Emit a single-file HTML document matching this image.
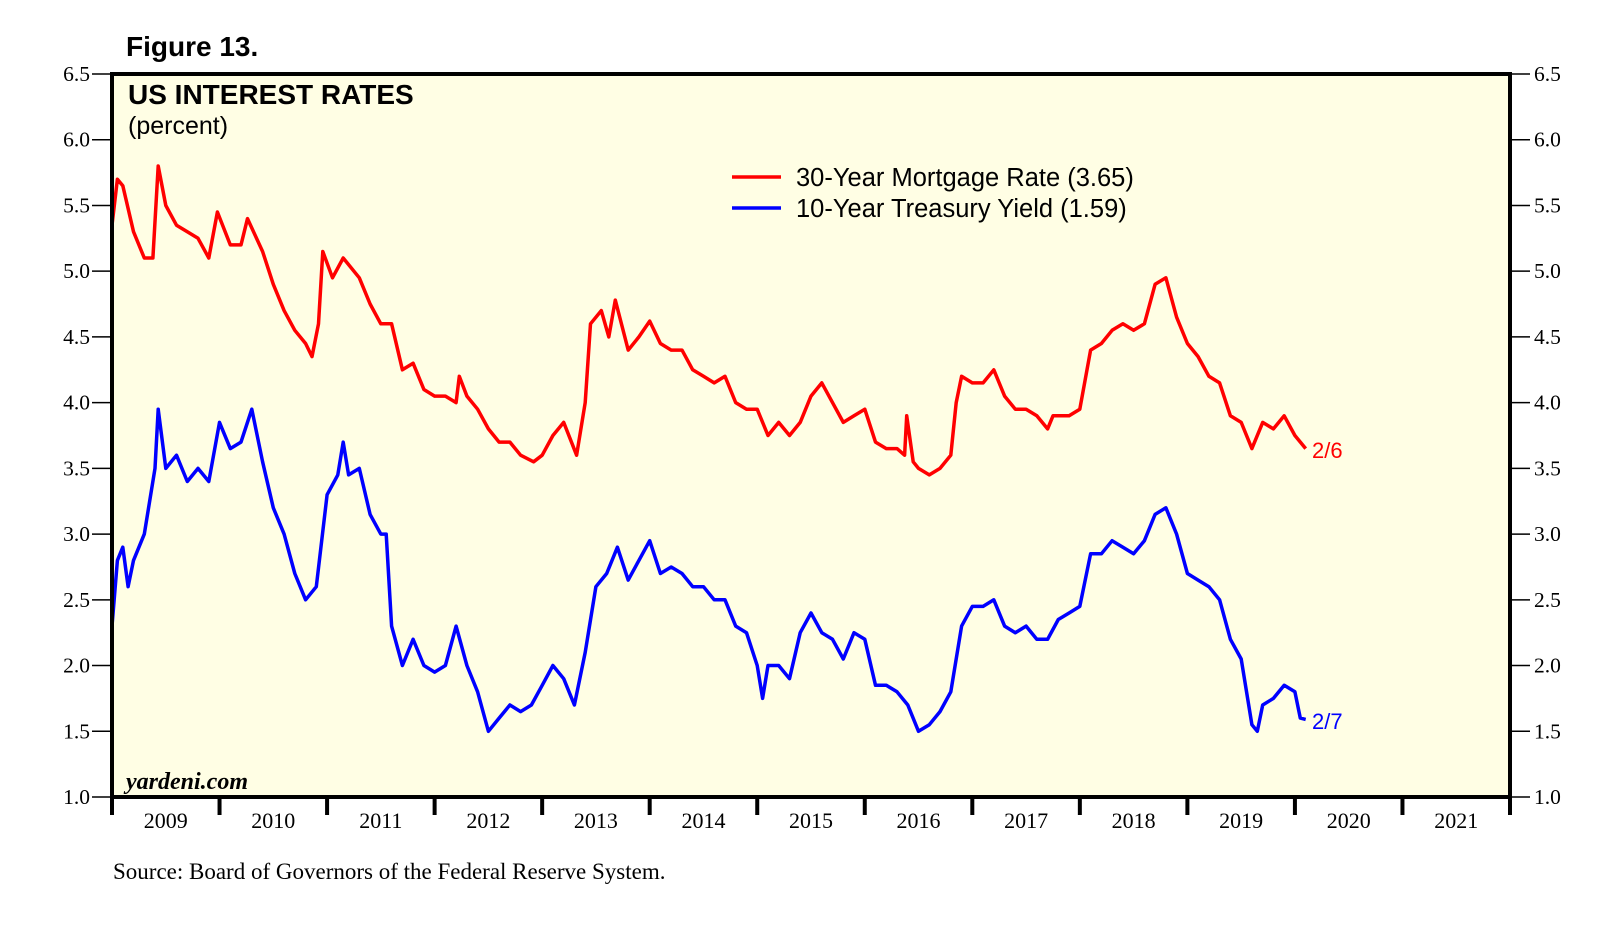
<!DOCTYPE html>
<html><head><meta charset="utf-8"><style>
body{margin:0;background:#fff;width:1610px;height:934px;overflow:hidden}
svg{display:block}
.serif{font-family:"Liberation Serif",serif}
.sans{font-family:"Liberation Sans",sans-serif}
</style></head><body>
<svg id="chart" width="1610" height="934" xmlns="http://www.w3.org/2000/svg">
<text x="126" y="56" class="sans" font-size="28" font-weight="bold">Figure 13.</text>
<rect x="112" y="74" width="1398" height="723" fill="#fffee4"/>
<g id="lines"></g>
<rect x="112" y="74" width="1398" height="723" fill="none" stroke="#000" stroke-width="4"/>
<g id="axes"></g>
<text x="128" y="104" class="sans" font-size="28" font-weight="bold">US INTEREST RATES</text>
<text x="128" y="134" class="sans" font-size="25">(percent)</text>
<line x1="732" y1="177" x2="781" y2="177" stroke="#f00" stroke-width="3.5"/>
<text x="796" y="186" class="sans" font-size="25.5">30-Year Mortgage Rate (3.65)</text>
<line x1="732" y1="208" x2="781" y2="208" stroke="#00f" stroke-width="3.5"/>
<text x="796" y="217" class="sans" font-size="25.5">10-Year Treasury Yield (1.59)</text>
<text x="1312" y="458" class="sans" font-size="22" fill="#f00">2/6</text>
<text x="1312" y="729" class="sans" font-size="22" fill="#00f">2/7</text>
<text x="126" y="789" class="serif" font-size="24" font-style="italic" font-weight="bold">yardeni.com</text>
<text x="113" y="879" class="serif" font-size="23">Source: Board of Governors of the Federal Reserve System.</text>
</svg>
<script>
const yTicks=[1.0,1.5,2.0,2.5,3.0,3.5,4.0,4.5,5.0,5.5,6.0,6.5];
const years=[2009,2010,2011,2012,2013,2014,2015,2016,2017,2018,2019,2020,2021];
const mortDates=[2009.0,2009.05,2009.1,2009.2,2009.3,2009.38,2009.43,2009.5,2009.6,2009.7,2009.8,2009.9,2009.98,2010.1,2010.2,2010.26,2010.4,2010.5,2010.6,2010.7,2010.8,2010.86,2010.92,2010.96,2011.05,2011.15,2011.3,2011.4,2011.5,2011.6,2011.7,2011.8,2011.9,2012.0,2012.1,2012.2,2012.23,2012.3,2012.4,2012.5,2012.6,2012.7,2012.8,2012.92,2013.0,2013.1,2013.2,2013.32,2013.4,2013.45,2013.55,2013.62,2013.68,2013.8,2013.9,2014.0,2014.1,2014.2,2014.3,2014.4,2014.5,2014.6,2014.7,2014.8,2014.9,2015.0,2015.1,2015.2,2015.3,2015.4,2015.5,2015.6,2015.7,2015.8,2015.9,2016.0,2016.1,2016.2,2016.3,2016.37,2016.39,2016.45,2016.5,2016.6,2016.7,2016.8,2016.85,2016.9,2017.0,2017.1,2017.2,2017.3,2017.4,2017.5,2017.6,2017.7,2017.75,2017.9,2018.0,2018.1,2018.2,2018.3,2018.4,2018.5,2018.6,2018.7,2018.8,2018.9,2019.0,2019.1,2019.2,2019.3,2019.4,2019.5,2019.6,2019.7,2019.8,2019.9,2020.0,2020.1];
const mortVals=[5.35,5.7,5.65,5.3,5.1,5.1,5.8,5.5,5.35,5.3,5.25,5.1,5.45,5.2,5.2,5.4,5.15,4.9,4.7,4.55,4.45,4.35,4.6,5.15,4.95,5.1,4.95,4.75,4.6,4.6,4.25,4.3,4.1,4.05,4.05,4.0,4.2,4.05,3.95,3.8,3.7,3.7,3.6,3.55,3.6,3.75,3.85,3.6,4.0,4.6,4.7,4.5,4.78,4.4,4.5,4.62,4.45,4.4,4.4,4.25,4.2,4.15,4.2,4.0,3.95,3.95,3.75,3.85,3.75,3.85,4.05,4.15,4.0,3.85,3.9,3.95,3.7,3.65,3.65,3.6,3.9,3.55,3.5,3.45,3.5,3.6,4.0,4.2,4.15,4.15,4.25,4.05,3.95,3.95,3.9,3.8,3.9,3.9,3.95,4.4,4.45,4.55,4.6,4.55,4.6,4.9,4.95,4.65,4.45,4.35,4.2,4.15,3.9,3.85,3.65,3.85,3.8,3.9,3.75,3.65];
const tsyDates=[2009.0,2009.05,2009.1,2009.15,2009.2,2009.3,2009.4,2009.43,2009.5,2009.6,2009.7,2009.8,2009.9,2010.0,2010.1,2010.2,2010.3,2010.4,2010.5,2010.6,2010.7,2010.8,2010.9,2011.0,2011.1,2011.15,2011.2,2011.3,2011.4,2011.5,2011.55,2011.6,2011.7,2011.8,2011.9,2012.0,2012.1,2012.2,2012.3,2012.4,2012.5,2012.6,2012.7,2012.8,2012.9,2013.0,2013.1,2013.2,2013.3,2013.4,2013.5,2013.6,2013.7,2013.8,2013.9,2014.0,2014.1,2014.2,2014.3,2014.4,2014.5,2014.6,2014.7,2014.8,2014.9,2015.0,2015.05,2015.1,2015.2,2015.3,2015.4,2015.5,2015.6,2015.7,2015.8,2015.9,2016.0,2016.1,2016.2,2016.3,2016.4,2016.5,2016.6,2016.7,2016.8,2016.9,2017.0,2017.1,2017.2,2017.3,2017.4,2017.5,2017.6,2017.7,2017.8,2017.9,2018.0,2018.1,2018.2,2018.3,2018.4,2018.5,2018.6,2018.7,2018.8,2018.9,2019.0,2019.1,2019.2,2019.3,2019.4,2019.5,2019.6,2019.65,2019.7,2019.8,2019.9,2020.0,2020.05,2020.1];
const tsyVals=[2.3,2.8,2.9,2.6,2.8,3.0,3.5,3.95,3.5,3.6,3.4,3.5,3.4,3.85,3.65,3.7,3.95,3.55,3.2,3.0,2.7,2.5,2.6,3.3,3.45,3.7,3.45,3.5,3.15,3.0,3.0,2.3,2.0,2.2,2.0,1.95,2.0,2.3,2.0,1.8,1.5,1.6,1.7,1.65,1.7,1.85,2.0,1.9,1.7,2.1,2.6,2.7,2.9,2.65,2.8,2.95,2.7,2.75,2.7,2.6,2.6,2.5,2.5,2.3,2.25,2.0,1.75,2.0,2.0,1.9,2.25,2.4,2.25,2.2,2.05,2.25,2.2,1.85,1.85,1.8,1.7,1.5,1.55,1.65,1.8,2.3,2.45,2.45,2.5,2.3,2.25,2.3,2.2,2.2,2.35,2.4,2.45,2.85,2.85,2.95,2.9,2.85,2.95,3.15,3.2,3.0,2.7,2.65,2.6,2.5,2.2,2.05,1.55,1.5,1.7,1.75,1.85,1.8,1.6,1.59];

const NS='http://www.w3.org/2000/svg';
const L=112,R=1510,T=74,B=797;
function xs(t){return L+(t-2009)/13*(R-L);}
function ys(v){return B-(v-1.0)/5.5*(B-T);}
const axes=document.getElementById('axes');
function mk(tag,attrs,parent){const e=document.createElementNS(NS,tag);for(const k in attrs)e.setAttribute(k,attrs[k]);parent.appendChild(e);return e;}
yTicks.forEach(v=>{
  const y=ys(v);
  const tl=mk('line',{x1:92,y1:y,x2:112,y2:y,stroke:'#000','stroke-width':1.5},axes);
  
  
  const tr=mk('line',{x1:1510,y1:y,x2:1530,y2:y,stroke:'#000','stroke-width':1.5},axes);
  
  
  const a=mk('text',{x:90,y:y+7,'text-anchor':'end','font-size':21.5,class:'serif'},axes);
  a.textContent=v.toFixed(1);
  
  
  const b=mk('text',{x:1534,y:y+7,'font-size':21.5,class:'serif'},axes);
  b.textContent=v.toFixed(1);
  
  
});
for(let i=0;i<=years.length;i++){
  const x=xs(2009+i);
  const t=mk('line',{x1:x,y1:797,x2:x,y2:815,stroke:'#000','stroke-width':4},axes);
  
  
}
years.forEach(yr=>{
  const t=mk('text',{x:xs(yr+0.5),y:828,'text-anchor':'middle','font-size':22,class:'serif'},axes);
  t.textContent=yr;
  
  
});
const lines=document.getElementById('lines');
function path(d,v){return d.map((t,i)=>(i?'L':'M')+xs(t).toFixed(1)+','+ys(v[i]).toFixed(1)).join('');}
const pm=mk('path',{d:path(mortDates,mortVals),fill:'none',stroke:'#f00','stroke-width':3.5,'stroke-linejoin':'round'},lines);


const pt=mk('path',{d:path(tsyDates,tsyVals),fill:'none',stroke:'#00f','stroke-width':3.5,'stroke-linejoin':'round'},lines);


</script>
</body></html>
